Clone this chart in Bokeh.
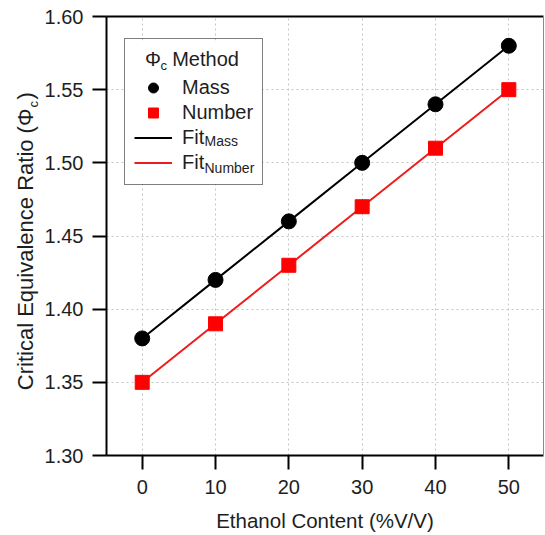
import math

from bokeh.core.properties import value
from bokeh.embed import file_html
from bokeh.models import (BoxAnnotation, FixedTicker, Legend, LegendItem, LinearAxis,
                          NumeralTickFormatter, Range1d)
from bokeh.plotting import figure
from bokeh.resources import INLINE

# Critical equivalence ratio vs. ethanol content, two determination methods
ethanol = [0, 10, 20, 30, 40, 50]
phi_mass = [1.38, 1.42, 1.46, 1.50, 1.54, 1.58]
phi_number = [1.35, 1.39, 1.43, 1.47, 1.51, 1.55]

x_ticks = [0, 10, 20, 30, 40, 50]
y_ticks = [1.30, 1.35, 1.40, 1.45, 1.50, 1.55, 1.60]


def linear_fit(x, y):
    """Least-squares straight line evaluated at x."""
    n = len(x)
    mx = sum(x) / n
    my = sum(y) / n
    slope = sum((a - mx) * (b - my) for a, b in zip(x, y)) / sum((a - mx) ** 2 for a in x)
    return [my + slope * (a - mx) for a in x]


fit_mass = linear_fit(ethanol, phi_mass)
fit_number = linear_fit(ethanol, phi_number)

# Canvas / frame geometry (pixels)
W, H = 545, 535
FL, FR, FT, FB = 106, 543, 16, 455
X0, X1 = -4.87, 54.73
Y0, Y1 = 1.30, 1.60

FONT = "Liberation Sans"
TXT = "#1e1e1e"


def dx(px):
    return X0 + (px - FL) * (X1 - X0) / (FR - FL)


def dy(py):
    return Y1 - (py - FT) * (Y1 - Y0) / (FB - FT)


p = figure(width=W, height=H, x_range=Range1d(X0, X1), y_range=Range1d(Y0, Y1),
           output_backend="svg", toolbar_location=None,
           min_border_left=FL, min_border_right=W - FR,
           min_border_top=FT, min_border_bottom=H - FB)
p.outline_line_color = None
p.background_fill_color = "white"
p.border_fill_color = "white"

# bottom and left axes
for ax in (p.xaxis[0], p.yaxis[0]):
    ax.axis_line_color = "black"
    ax.axis_line_width = 2
    ax.major_tick_line_color = "black"
    ax.major_tick_line_width = 2
    ax.major_tick_out = 14
    ax.major_tick_in = 0
    ax.minor_tick_out = 0
    ax.minor_tick_in = 0
    ax.major_label_text_font = FONT
    ax.major_label_text_font_size = "20px"
    ax.major_label_text_color = TXT

p.xaxis.ticker = FixedTicker(ticks=x_ticks)
p.yaxis.ticker = FixedTicker(ticks=y_ticks)
p.yaxis.formatter = NumeralTickFormatter(format="0.00")
p.xaxis.major_label_standoff = 10
p.yaxis.major_label_standoff = 9

p.xaxis.axis_label = "Ethanol Content (%V/V)"
p.xaxis.axis_label_text_font = FONT
p.xaxis.axis_label_text_font_size = "20.5px"
p.xaxis.axis_label_text_font_style = "normal"
p.xaxis.axis_label_text_color = TXT
p.xaxis.axis_label_standoff = 12

# top and right frame edges
top_axis = LinearAxis(ticker=FixedTicker(ticks=[]), major_label_text_font_size="0px",
                      major_tick_out=0, major_tick_in=0, minor_tick_out=0, minor_tick_in=0,
                      major_label_standoff=0, axis_line_color="black", axis_line_width=2)
right_axis = LinearAxis(ticker=FixedTicker(ticks=[]), major_label_text_font_size="0px",
                        major_tick_out=0, major_tick_in=0, minor_tick_out=0, minor_tick_in=0,
                        major_label_standoff=0, axis_line_color="#8a8a8a", axis_line_width=1)
p.add_layout(top_axis, "above")
p.add_layout(right_axis, "right")

# dotted grid
p.xgrid.ticker = FixedTicker(ticks=x_ticks)
p.ygrid.ticker = FixedTicker(ticks=y_ticks)
for g in (p.xgrid[0], p.ygrid[0]):
    g.grid_line_color = "#c4c4c4"
    g.grid_line_dash = "2 3"
    g.grid_line_width = 1

# white backing for the legend box, drawn over the grid
p.add_layout(BoxAnnotation(left=dx(125), right=dx(262), top=dy(40), bottom=dy(184),
                           fill_color="white", fill_alpha=1.0, line_color=None,
                           level="underlay"))

# data and fits
r_fit_mass = p.line(ethanol, fit_mass, line_color="black", line_width=2)
r_fit_number = p.line(ethanol, fit_number, line_color="#ee1c1c", line_width=2)
r_mass = p.scatter(ethanol, phi_mass, marker="circle", size=15,
                   fill_color="black", line_color="black")
r_number = p.scatter(ethanol, phi_number, marker="square", size=14,
                     fill_color="#ff0000", line_color="#ff0000")

legend = Legend(
    items=[LegendItem(label="Mass", renderers=[r_mass]),
           LegendItem(label="Number", renderers=[r_number]),
           LegendItem(label="Fit", renderers=[r_fit_mass]),
           LegendItem(label="Fit", renderers=[r_fit_number])],
    location=(18, 270),
    title="\u00a0\u00a0\u03a6\u00a0\u00a0Method",
    title_text_font=FONT, title_text_font_size="20px", title_text_font_style="normal",
    title_text_color=TXT, title_standoff=4,
    label_text_font=FONT, label_text_font_size="20px", label_text_color=TXT,
    border_line_color="black", border_line_width=1.5,
    background_fill_alpha=0.0,
    padding=9, spacing=0, margin=0,
    glyph_height=25, glyph_width=38, label_standoff=10, label_height=20,
)
p.add_layout(legend)


def add_text(px, py, txt, size, angle=0.0, align="left", level="glyph"):
    r = p.text(x=[dx(px)], y=[dy(py)], text=[txt], angle=angle,
               text_font=value(FONT), text_font_size=size, text_color=TXT,
               text_align=align, text_baseline="alphabetic")
    r.level = level
    return r


# subscripts in the legend
add_text(160, 65, "c", "13px")
add_text(204, 140, "Mass", "14px")
add_text(204, 167, "Number", "14px")

# rotated y-axis title: "Critical Equivalence Ratio (Φc)", drawn outside the frame
base_x = 25
phi_end = 108
add_text(base_x, phi_end, "Critical Equivalence Ratio (\u03a6", "22px", math.pi / 2, "right",
         "overlay")
add_text(base_x + 8, phi_end - 1, "c", "13px", math.pi / 2, level="overlay")
add_text(base_x, phi_end - 9, ")", "22px", math.pi / 2, level="overlay")

open("out.html", "w").write(file_html(p, INLINE))
